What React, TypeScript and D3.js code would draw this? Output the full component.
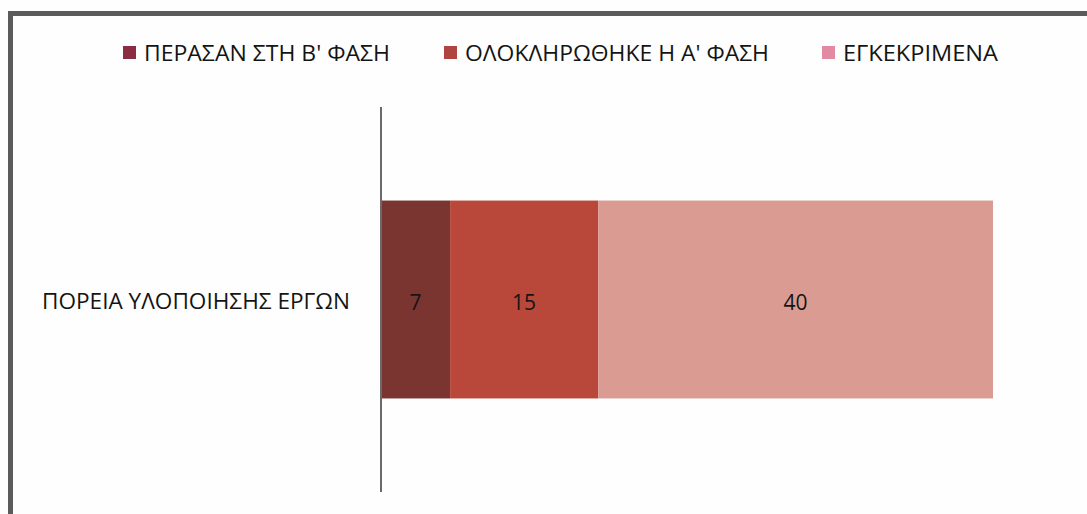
import React from "react";
import * as d3 from "d3";

const categories = ["ΠΟΡΕΙΑ ΥΛΟΠΟΙΗΣΗΣ ΕΡΓΩΝ"];
const seriesNames = ["ΠΕΡΑΣΑΝ ΣΤΗ Β' ΦΑΣΗ", "ΟΛΟΚΛΗΡΩΘΗΚΕ Η Α' ΦΑΣΗ", "ΕΓΚΕΚΡΙΜΕΝΑ"];
const seriesValues = [7, 15, 40];
const barColors = ["#7b3530", "#b9483b", "#da9b93"];
const legendColors = ["#8a2c42", "#b04440", "#e28aa2"];

const W = 1087;
const H = 514;
const FONT = "'Open Sans', 'DejaVu Sans', sans-serif";

export default function App() {
  const total = d3.sum(seriesValues);
  const x = d3.scaleLinear().domain([0, total]).range([381, 993]);
  const y = d3.scaleBand<string>().domain(categories).range([107, 492]).padding(0.321);

  const stacked = seriesValues.map((v, i) => {
    const start = d3.sum(seriesValues.slice(0, i));
    return { name: seriesNames[i], value: v, x0: start, x1: start + v, color: barColors[i] };
  });

  // legend layout: square position and text width per entry
  const legendX = [123, 444, 822];
  const legendTextLen = [246, 304, 155];

  return (
    <svg
      width={W}
      height={H}
      style={{ position: "fixed", left: 0, top: 0, display: "block", background: "#fdfefd" }}
      fontFamily={FONT}
    >
      <rect x={0} y={0} width={W} height={H} fill="#fdfefd" />
      {/* frame */}
      <rect x={8} y={11} width={W - 8} height={5} fill="#5b5b5b" />
      <rect x={8} y={11} width={5} height={H - 11} fill="#5b5b5b" />

      {/* legend */}
      {seriesNames.map((name, i) => (
        <g key={name}>
          <rect x={legendX[i]} y={46} width={13} height={13} fill={legendColors[i]} />
          <text
            x={legendX[i] + 21}
            y={53}
            dominantBaseline="central"
            fontSize={21}
            fontWeight={500}
            fill="#141414"
            textLength={legendTextLen[i]}
            lengthAdjust="spacingAndGlyphs"
          >
            {name}
          </text>
        </g>
      ))}

      {/* bars */}
      {categories.map((cat) => (
        <g key={cat}>
          {stacked.map((s) => (
            <g key={s.name}>
              <rect
                x={x(s.x0)}
                y={y(cat)!}
                width={x(s.x1) - x(s.x0)}
                height={y.bandwidth()}
                fill={s.color}
              />
              <text
                x={(x(s.x0) + x(s.x1)) / 2}
                y={y(cat)! + y.bandwidth() / 2 + 2}
                textAnchor="middle"
                dominantBaseline="central"
                fontSize={21}
                fontWeight={500}
                fill="#141414"
              >
                {s.value}
              </text>
            </g>
          ))}
          <text
            x={x(0) - 31}
            y={y(cat)! + y.bandwidth() / 2 + 1}
            textAnchor="end"
            dominantBaseline="central"
            fontSize={21}
            fontWeight={500}
            fill="#141414"
            textLength={308}
            lengthAdjust="spacingAndGlyphs"
          >
            {cat}
          </text>
        </g>
      ))}

      {/* category axis */}
      <line x1={x(0)} x2={x(0)} y1={107} y2={492} stroke="#6a6a6a" strokeWidth={2} />
    </svg>
  );
}
